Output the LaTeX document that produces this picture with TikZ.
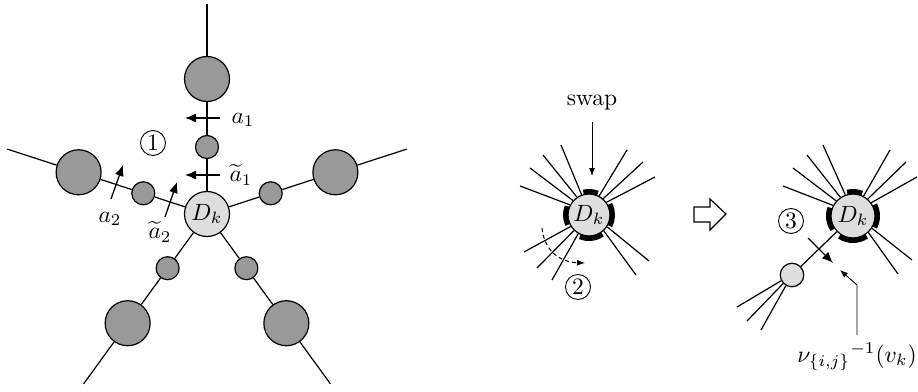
\documentclass[tikz,border=0pt]{standalone}
\usepackage{graphicx}
\usetikzlibrary{arrows.meta,calc}
% all labels are set at 10pt and enlarged uniformly
\newcommand{\sclbl}[1]{\scalebox{2.35}{#1}}
\begin{document}
\begin{tikzpicture}[x=1pt,y=1pt,
  edge/.style={line width=1.2pt},
  bigc/.style={circle,draw,line width=1.2pt,fill=black!40,minimum size=45pt,inner sep=0pt},
  smallc/.style={circle,draw,line width=1.2pt,fill=black!40,minimum size=23pt,inner sep=0pt},
  dk/.style={circle,draw,line width=1.2pt,fill=black!13,inner sep=0pt},
  litec/.style={circle,draw,line width=1.2pt,fill=black!13,minimum size=23.5pt,inner sep=0pt},
  port/.style={line width=5pt},
  fatarrow/.style={line width=1.3pt,-{Latex[length=11pt,width=9pt]}},
  thinarrow/.style={line width=0.9pt,-{Latex[length=8pt,width=6pt]}},
  dasharrow/.style={line width=1pt,dash pattern=on 4pt off 3pt,-{Latex[length=8pt,width=6pt]}},
  numc/.style={circle,draw,line width=0.9pt,minimum size=25pt,inner sep=0pt},
]
\useasboundingbox (0,0) rectangle (918,-391);

% ---------- left: star around D_k ----------
\coordinate (C0) at (207,-214);
\node[dk,minimum size=45pt] (D0) at (C0) {\sclbl{$D_k$}};
\foreach \a/\n in {90/t,162/l,18/r,234/p,306/q}{
  \node[smallc] (s\n) at ($(C0)+(\a:67pt)$) {};
  \node[bigc] (b\n) at ($(C0)+(\a:135pt)$) {};
  \coordinate (e\n) at ($(C0)+(\a:210pt)$);
  \draw[edge] (D0) -- (s\n) -- (b\n) -- (e\n);
}
% edge directions a_1, a_2 and their tilde versions
\coordinate (a1s) at (220,-118); \coordinate (a1e) at (185,-118);
\coordinate (t1s) at (220,-175); \coordinate (t1e) at (185,-175);
\coordinate (a2s) at (111,-199); \coordinate (a2e) at (123,-165);
\coordinate (t2s) at (165,-217); \coordinate (t2e) at (177,-182);
\draw[fatarrow] (a1s) -- (a1e);
\draw[fatarrow] (t1s) -- (t1e);
\draw[fatarrow] (a2s) -- (a2e);
\draw[fatarrow] (t2s) -- (t2e);
\node[inner sep=0pt] (la1) at (243,-120) {\sclbl{$a_1$}};
\node[inner sep=0pt] (lt1) at (241,-175) {\sclbl{$\widetilde{a}_1$}};
\node[inner sep=0pt] (la2) at (110,-219) {\sclbl{$a_2$}};
\node[inner sep=0pt] (lt2) at (160,-232) {\sclbl{$\widetilde{a}_2$}};
\node[numc] (n1) at (153,-143) {\sclbl{1}};

% ---------- middle: D_k before the swap ----------
\coordinate (C1) at (589,-215);
\node[dk,minimum size=42pt] (D1) at (C1) {\sclbl{$D_k$}};
\foreach \s/\x/\y [count=\i] in {152/520/186,138/530/168,124/543/155,110/561/145,
    62/627/150,49/643/162,36/655/177,327/649/261,313/636/275,
    212/524/252,226/537/268,240/552/280}{
  \coordinate (m\i) at (\x,-\y);
  \draw[edge] (D1.\s) -- (m\i);
}
\foreach \a/\b in {68/104,158/205,247/305,-28/28}
  \draw[port] ($(C1)+(\a:23.5pt)$) arc[start angle=\a,end angle=\b,radius=23.5pt];
\node[inner sep=0pt] (sw) at (592,-103) {\sclbl{swap}};
\coordinate (swt) at (592,-122); \coordinate (swh) at (592,-176);
\draw[thinarrow] (swt) -- (swh);
\coordinate (ds) at (542,-228); \coordinate (de) at (585,-263);
\draw[dasharrow] (ds) .. controls (544,-249) and (558,-262) .. (de);
\node[numc] (n2) at (578,-287) {\sclbl{2}};

% ---------- hollow arrow ----------
\draw[line width=1.2pt,fill=white,line join=miter]
  (694,-207) -- (710,-207) -- (710,-199) -- (726,-214) -- (710,-230)
  -- (710,-222) -- (694,-222) -- cycle;

% ---------- right: D_k after the swap ----------
\coordinate (C2) at (853,-216);
\node[dk,minimum size=44pt] (D2) at (C2) {\sclbl{$D_k$}};
\foreach \s/\x/\y [count=\i] in {152/783/186,138/793/168,124/807/155,110/823/145,
    62/890/150,49/906/162,36/917/177,327/912/260,313/898/274}{
  \coordinate (r\i) at (\x,-\y);
  \draw[edge] (D2.\s) -- (r\i);
}
\node[litec] (sm) at (792,-275) {};
\draw[edge] (D2) -- (sm);
\foreach \s/\x/\y [count=\i] in {208/737/307,224/747/321,240/761/330}{
  \coordinate (f\i) at (\x,-\y);
  \draw[edge] (sm.\s) -- (f\i);
}
\foreach \a/\b in {68/104,160/214,236/304,-28/28}
  \draw[port] ($(C2)+(\a:24.5pt)$) arc[start angle=\a,end angle=\b,radius=24.5pt];
\coordinate (p3s) at (808,-238); \coordinate (p3e) at (833,-263);
\draw[fatarrow] (p3s) -- (p3e);
\node[numc] (n3) at (791,-221) {\sclbl{3}};
\node[inner sep=0pt] (nu) at (857,-357) {\sclbl{$\nu_{\{i,j\}}{}^{-1}(v_k)$}};
\coordinate (lb0) at (857,-335); \coordinate (lb1) at (857,-285); \coordinate (lb2) at (840,-270);
\draw[thinarrow] (lb0) -- (lb1) -- (lb2);
\end{tikzpicture}
\end{document}
